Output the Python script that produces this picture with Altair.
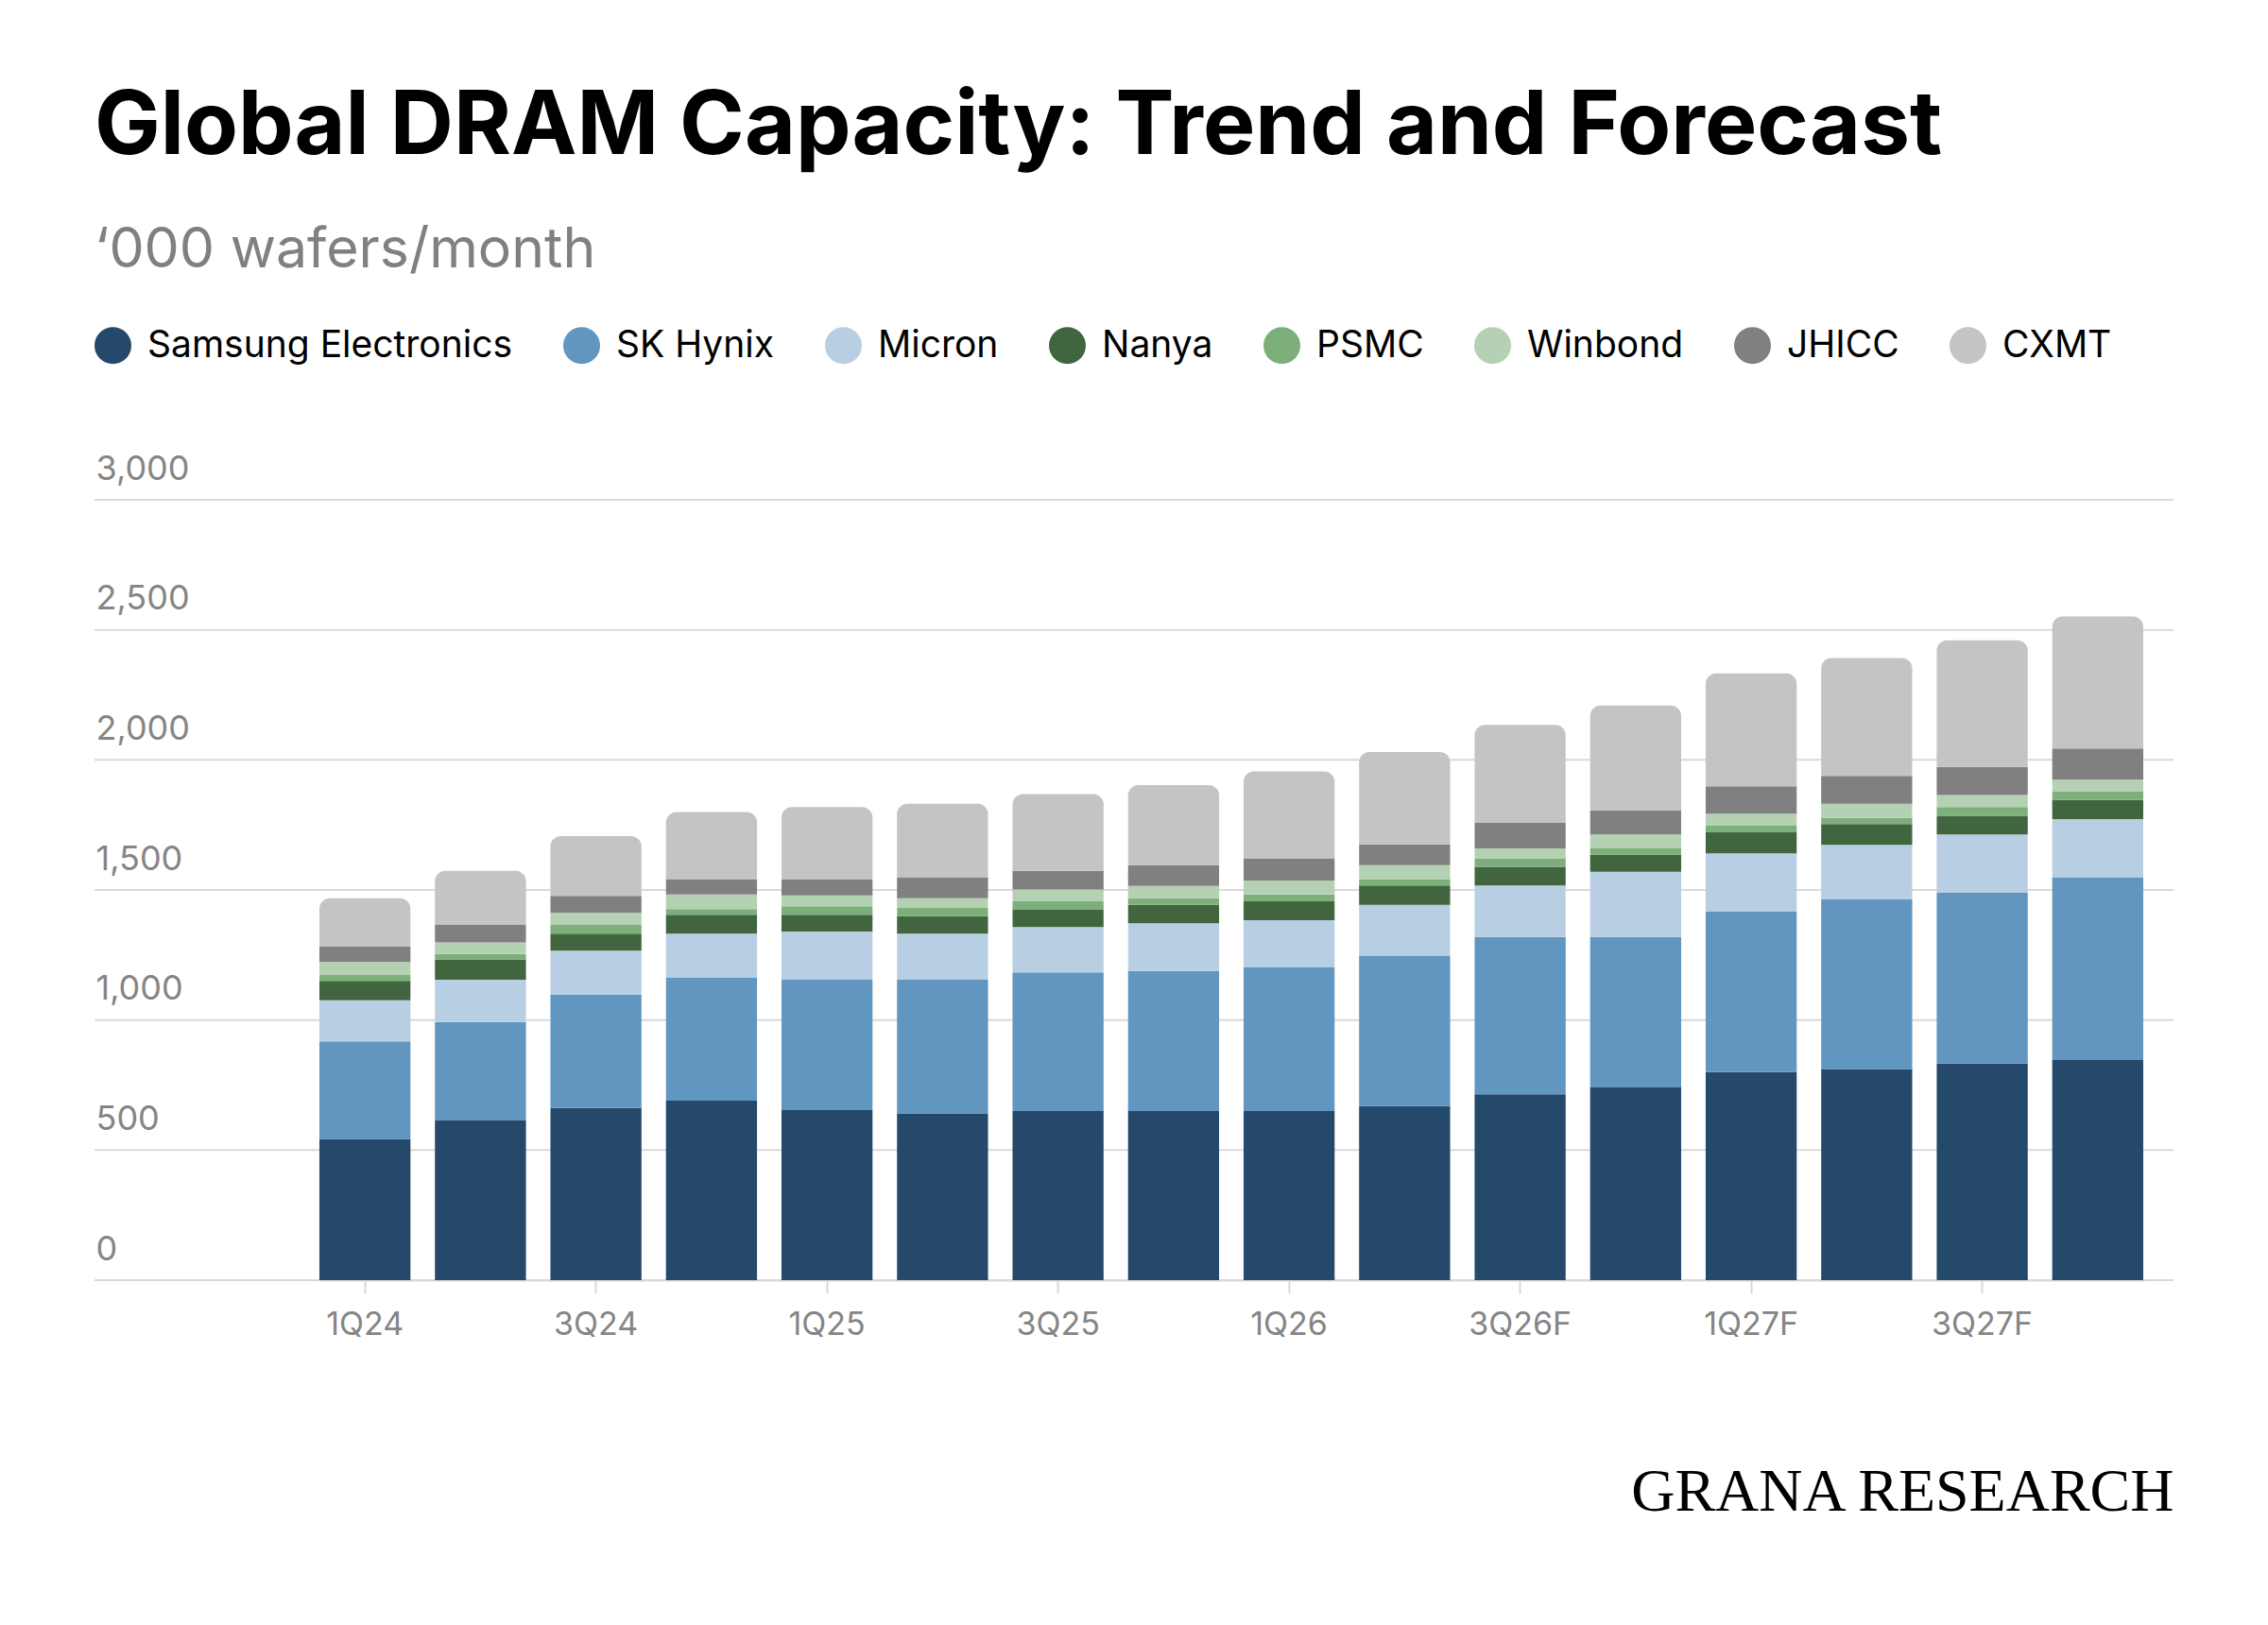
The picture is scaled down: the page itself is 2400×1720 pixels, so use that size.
import altair as alt
import pandas as pd

quarters = ["1Q24", "2Q24", "3Q24", "4Q24", "1Q25", "2Q25", "3Q25", "4Q25",
            "1Q26", "2Q26", "3Q26F", "4Q26F", "1Q27F", "2Q27F", "3Q27F", "4Q27F"]
companies = ["Samsung Electronics", "SK Hynix", "Micron", "Nanya", "PSMC",
             "Winbond", "JHICC", "CXMT"]
colors = ["#25496a", "#6096c0", "#b8cfe3", "#41663f", "#7daf7a",
          "#b5d1b4", "#808080", "#c4c4c4"]

samsung = [542, 616, 662, 690, 654, 641, 650, 650, 650, 669, 715, 741, 800, 812, 833, 846]
sk_hynix = [376, 376, 435, 474, 501, 514, 533, 539, 552, 579, 604, 578, 618, 652, 656, 703]
micron = [158, 163, 170, 168, 185, 177, 174, 183, 182, 195, 198, 251, 223, 209, 224, 223]
nanya = [74, 78, 65, 73, 65, 67, 67, 71, 72, 74, 72, 65, 81, 80, 72, 74]
psmc = [25, 21, 34, 21, 32, 32, 32, 25, 27, 25, 31, 25, 25, 25, 34, 32]
winbond = [48, 44, 46, 57, 42, 37, 46, 47, 53, 53, 40, 53, 46, 53, 46, 46]
jhicc = [59, 68, 65, 59, 63, 81, 72, 80, 86, 80, 100, 93, 106, 108, 108, 120]
cxmt = [186, 208, 230, 258, 277, 282, 295, 308, 334, 355, 375, 403, 434, 453, 487, 507]

x_tick_labels = ["1Q24", "3Q24", "1Q25", "3Q25", "1Q26", "3Q26F", "1Q27F", "3Q27F"]
y_ticks = [0, 500, 1000, 1500, 2000, 2500, 3000]

series = [samsung, sk_hynix, micron, nanya, psmc, winbond, jhicc, cxmt]
rows = []
for ci, (name, vals) in enumerate(zip(companies, series)):
    for q, v in zip(quarters, vals):
        rows.append({"quarter": q, "company": name, "value": v, "order": ci})
df = pd.DataFrame(rows)
grid_df = pd.DataFrame({"y0": y_ticks})

FONT = "Inter"
GREY = "#858585"
GRID = "#d9d9d9"
PLOT_W = 2200
PLOT_H = 826

x_enc = alt.X(
    "quarter:N", sort=quarters,
    scale=alt.Scale(paddingInner=0.212, paddingOuter=0, range=[238, 2168]),
    axis=alt.Axis(
        values=x_tick_labels, labelAngle=0, labelFont=FONT, labelFontSize=34,
        labelColor=GREY, labelPadding=16, domain=True, domainColor=GRID,
        domainWidth=2, ticks=True, tickColor=GRID, tickWidth=2, tickSize=14,
        grid=False,
        title="GRANA RESEARCH", titleFont="Liberation Serif", titleFontSize=64,
        titleFontWeight="normal", titleColor="#000000", titleAlign="right",
        titleBaseline="alphabetic", titleX=PLOT_W, titleY=243,
    ),
)
y_axis = alt.Axis(
    values=y_ticks, format=",.0f", title=None, domain=False, ticks=False, tickSize=0,
    labelAlign="left", labelBaseline="alphabetic", labelPadding=-1, labelOffset=-22,
    labelFont=FONT, labelFontSize=36, labelColor=GREY, grid=False,
)
y_scale = alt.Scale(domain=[0, 3000], nice=False)
y_enc = alt.Y("y0:Q", scale=y_scale, axis=y_axis)
color_enc = alt.Color(
    "company:N",
    scale=alt.Scale(domain=companies, range=colors),
    legend=alt.Legend(
        title=None, orient="none", legendX=0, legendY=-183, direction="horizontal",
        symbolType="circle", symbolSize=1521, symbolStrokeWidth=0, symbolOpacity=1,
        labelFont=FONT, labelFontSize=39, labelColor="#000000", labelOffset=17,
        columnPadding=53, padding=0, labelLimit=0,
    ),
)

gridlines = alt.Chart(grid_df).mark_rule(color=GRID, strokeWidth=2).encode(
    y=y_enc, x=alt.value(0), x2=alt.value(PLOT_W),
)

base = alt.Chart(df).transform_stack(
    stack="value", groupby=["quarter"],
    sort=[alt.SortField("order", order="ascending")], as_=["y0", "y1"],
)

lower = base.transform_filter(alt.datum.company != "CXMT").mark_bar().encode(
    x=x_enc, y=y_enc, y2="y1:Q", color=color_enc,
)
top = base.transform_filter(alt.datum.company == "CXMT").mark_bar(
    cornerRadiusTopLeft=11, cornerRadiusTopRight=11
).encode(
    x=x_enc, y=y_enc, y2="y1:Q", color=color_enc,
)

chart = alt.layer(gridlines, lower, top).properties(
    width=PLOT_W, height=PLOT_H,
    autosize=alt.AutoSizeParams(type="none"),
    padding={"left": 92, "top": 521, "right": 92, "bottom": 357},
    background="white",
    title=alt.TitleParams(
        text="Global DRAM Capacity: Trend and Forecast",
        subtitle="\u2018000 wafers/month",
        anchor="start", frame="group", font=FONT, fontSize=93, fontWeight=700,
        color="#000000", subtitleFont=FONT, subtitleFontSize=59,
        subtitleColor="#808080", subtitlePadding=53, offset=50,
    ),
).configure_view(strokeWidth=0)

chart.save("out.html", embed_options={"renderer": "svg", "actions": False})
